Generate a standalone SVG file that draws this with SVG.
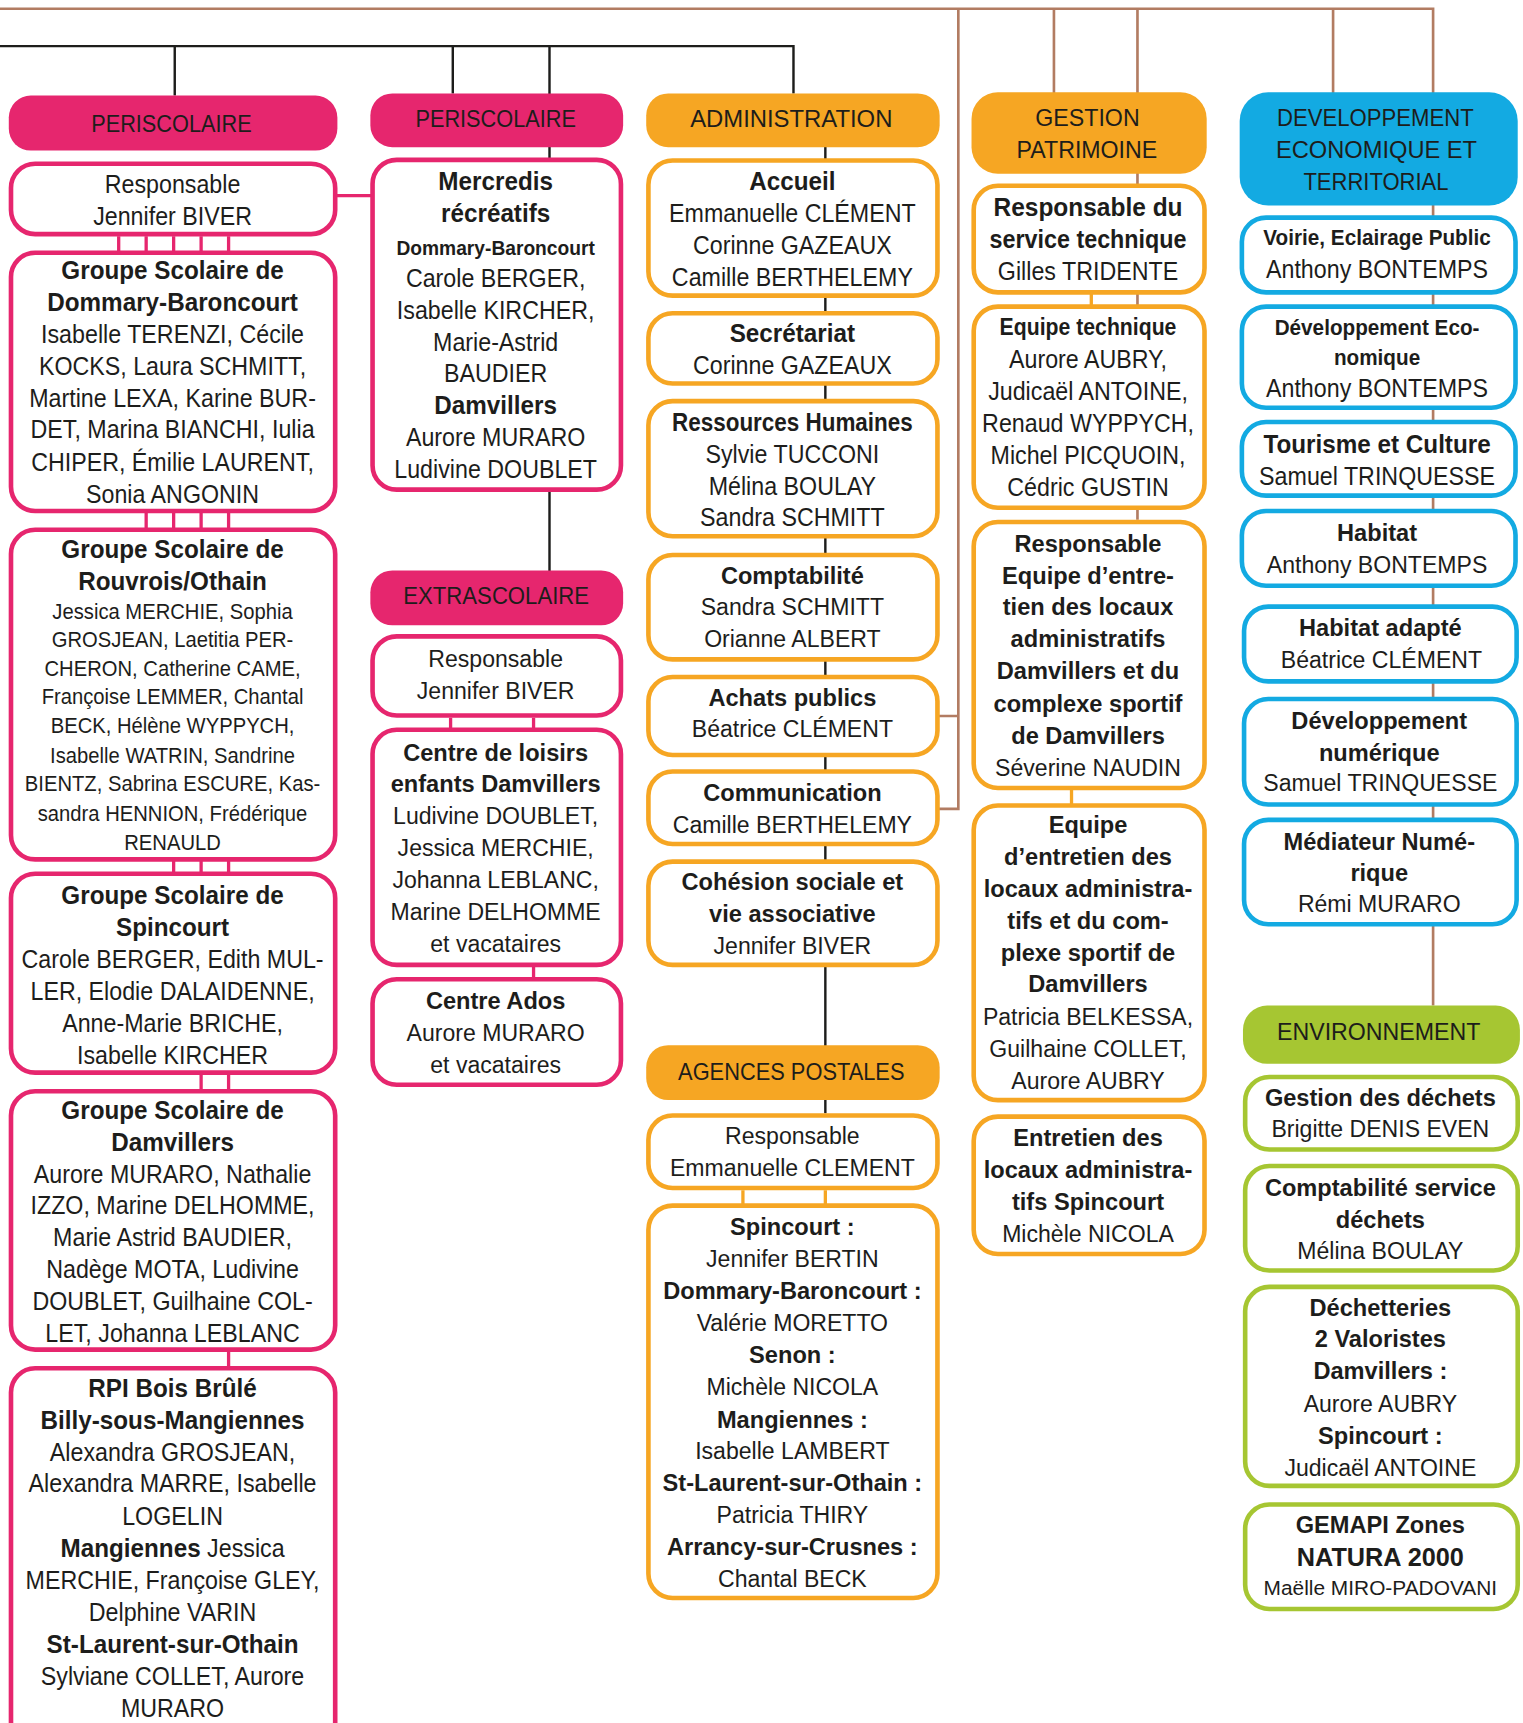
<svg xmlns="http://www.w3.org/2000/svg" width="1523" height="1723" viewBox="0 0 1523 1723">
<style>
.t{font-family:"Liberation Sans",Arial,sans-serif;fill:#1d1d1b;text-anchor:middle}
.r{font-size:23px}
.b{font-size:24px;font-weight:700}
.rs{font-size:20px}
.bs{font-size:19px;font-weight:700}
.b21{font-size:21px;font-weight:700}
.b20{font-size:20.5px;font-weight:700}
.wr{font-size:21px}
.wb{font-size:21.5px;font-weight:700}
.wb23{font-size:23px;font-weight:700}
.wr19{font-size:19px}
.h{font-family:"Liberation Sans",Arial,sans-serif;fill:#1d1d1b;text-anchor:middle;font-size:22px}
.bp{fill:#fff;stroke:#E6266E;stroke-width:4.2}
.bo{fill:#fff;stroke:#F6A623;stroke-width:4.2}
.bb{fill:#fff;stroke:#13AAE2;stroke-width:4.2}
.bg{fill:#fff;stroke:#A6C632;stroke-width:4.2}
.hp{fill:#E6266E}
.ho{fill:#F6A623}
.hb{fill:#13AAE2}
.hg{fill:#A6C632}
.lk{stroke:#1d1d1b;stroke-width:2.2;fill:none}
.ln{stroke:#B27C62;stroke-width:2.4;fill:none}
.lp{stroke:#E6266E;stroke-width:3;fill:none}
.lo{stroke:#F6A623;stroke-width:3;fill:none}
</style>
<rect width="1523" height="1723" fill="#fff"/>
<g transform="scale(1.099)">
<g id="connectors">
<path class="ln" d="M0 8H1304V915M872 8V736H853M853 651.5H872M959 8V85M1035 8V473M1213 8V85"/>
<path class="lk" d="M0 42H722V85M159 42V87M412 42V85M500 42V520M751 133V1013"/>
<path class="lp" d="M305 178H340M108 215V230M133 215V482M158 215V795M183 215V993M208 215V1245M410 653V664M485.5 653V891"/>
<path class="lo" d="M676 1083V1097M751 1083V1097M993 266V279M975 717V733"/>
</g>

<g id="h-periscolaire1"><rect class="hp" x="8" y="87" width="299" height="50" rx="20"/><text class="h" x="156" y="120" textLength="146" lengthAdjust="spacingAndGlyphs">PERISCOLAIRE</text></g>
<g id="resp-periscolaire"><rect class="bp" x="10" y="149" width="295" height="64" rx="22"/>
<g transform="translate(157 0) scale(0.92 1)"><text class="t r" x="0" y="176">Responsable</text><text class="t r" x="0" y="205">Jennifer BIVER</text></g></g>
<g id="gs-dommary"><rect class="bp" x="10" y="230" width="295" height="235" rx="22"/>
<g transform="translate(157 0) scale(0.92 1)"><text class="t b" x="0" y="254">Groupe Scolaire de</text><text class="t b" x="0" y="283">Dommary-Baroncourt</text><text class="t r" x="0" y="312">Isabelle TERENZI, Cécile</text><text class="t r" x="0" y="341">KOCKS, Laura SCHMITT,</text><text class="t r" x="0" y="370">Martine LEXA, Karine BUR-</text><text class="t r" x="0" y="399">DET, Marina BIANCHI, Iulia</text><text class="t r" x="0" y="429">CHIPER, Émilie LAURENT,</text><text class="t r" x="0" y="458">Sonia ANGONIN</text></g></g>
<g id="gs-rouvrois"><rect class="bp" x="10" y="482" width="295" height="300" rx="22"/>
<g transform="translate(157 0) scale(0.92 1)"><text class="t b" x="0" y="508">Groupe Scolaire de</text><text class="t b" x="0" y="537">Rouvrois/Othain</text><text class="t rs" x="0" y="563">Jessica MERCHIE, Sophia</text><text class="t rs" x="0" y="589">GROSJEAN, Laetitia PER-</text><text class="t rs" x="0" y="615">CHERON, Catherine CAME,</text><text class="t rs" x="0" y="641">Françoise LEMMER, Chantal</text><text class="t rs" x="0" y="667">BECK, Hélène WYPPYCH,</text><text class="t rs" x="0" y="694">Isabelle WATRIN, Sandrine</text><text class="t rs" x="0" y="720">BIENTZ, Sabrina ESCURE, Kas-</text><text class="t rs" x="0" y="747">sandra HENNION, Frédérique</text><text class="t rs" x="0" y="773">RENAULD</text></g></g>
<g id="gs-spincourt"><rect class="bp" x="10" y="795" width="295" height="181" rx="22"/>
<g transform="translate(157 0) scale(0.92 1)"><text class="t b" x="0" y="823">Groupe Scolaire de</text><text class="t b" x="0" y="852">Spincourt</text><text class="t r" x="0" y="881">Carole BERGER, Edith MUL-</text><text class="t r" x="0" y="910">LER, Elodie DALAIDENNE,</text><text class="t r" x="0" y="939">Anne-Marie BRICHE,</text><text class="t r" x="0" y="968">Isabelle KIRCHER</text></g></g>
<g id="gs-damvillers"><rect class="bp" x="10" y="993" width="295" height="235" rx="22"/>
<g transform="translate(157 0) scale(0.92 1)"><text class="t b" x="0" y="1018">Groupe Scolaire de</text><text class="t b" x="0" y="1047">Damvillers</text><text class="t r" x="0" y="1076">Aurore MURARO, Nathalie</text><text class="t r" x="0" y="1105">IZZO, Marine DELHOMME,</text><text class="t r" x="0" y="1134">Marie Astrid BAUDIER,</text><text class="t r" x="0" y="1163">Nadège MOTA, Ludivine</text><text class="t r" x="0" y="1192">DOUBLET, Guilhaine COL-</text><text class="t r" x="0" y="1221">LET, Johanna LEBLANC</text></g></g>
<g id="rpi"><rect class="bp" x="10" y="1245" width="295" height="360" rx="22"/>
<g transform="translate(157 0) scale(0.92 1)"><text class="t b" x="0" y="1271">RPI Bois Brûlé</text><text class="t b" x="0" y="1300">Billy-sous-Mangiennes</text><text class="t r" x="0" y="1329">Alexandra GROSJEAN,</text><text class="t r" x="0" y="1358">Alexandra MARRE, Isabelle</text><text class="t r" x="0" y="1388">LOGELIN</text><text class="t r" x="0" y="1417"><tspan font-weight="700" font-size="24">Mangiennes</tspan> Jessica</text><text class="t r" x="0" y="1446">MERCHIE, Françoise GLEY,</text><text class="t r" x="0" y="1475">Delphine VARIN</text><text class="t b" x="0" y="1504">St-Laurent-sur-Othain</text><text class="t r" x="0" y="1533">Sylviane COLLET, Aurore</text><text class="t r" x="0" y="1562">MURARO</text></g></g>

<g id="h-periscolaire2"><rect class="hp" x="337" y="85" width="230" height="49" rx="20"/><text class="h" x="451" y="116" textLength="146" lengthAdjust="spacingAndGlyphs">PERISCOLAIRE</text></g>
<g id="mercredis"><rect class="bp" x="339" y="145.5" width="226" height="300" rx="22"/>
<g transform="translate(451 0) scale(0.92 1)"><text class="t b" x="0" y="173">Mercredis</text><text class="t b" x="0" y="202">récréatifs</text><text class="t bs" x="0" y="232">Dommary-Baroncourt</text><text class="t r" x="0" y="261">Carole BERGER,</text><text class="t r" x="0" y="290">Isabelle KIRCHER,</text><text class="t r" x="0" y="319">Marie-Astrid</text><text class="t r" x="0" y="348">BAUDIER</text><text class="t b" x="0" y="377">Damvillers</text><text class="t r" x="0" y="406">Aurore MURARO</text><text class="t r" x="0" y="435">Ludivine DOUBLET</text></g></g>
<g id="h-extrascolaire"><rect class="hp" x="337" y="519" width="230" height="50" rx="20"/><text class="h" x="451.5" y="550" textLength="169" lengthAdjust="spacingAndGlyphs">EXTRASCOLAIRE</text></g>
<g id="resp-extrascolaire"><rect class="bp" x="339" y="579" width="226" height="72" rx="22"/>
<text class="t wr" x="451" y="607">Responsable</text><text class="t wr" x="451" y="636">Jennifer BIVER</text></g>
<g id="centre-loisirs"><rect class="bp" x="339" y="664" width="226" height="214" rx="22"/>
<text class="t wb" x="451" y="692">Centre de loisirs</text><text class="t wb" x="451" y="721">enfants Damvillers</text><text class="t wr" x="451" y="750">Ludivine DOUBLET,</text><text class="t wr" x="451" y="779">Jessica MERCHIE,</text><text class="t wr" x="451" y="808">Johanna LEBLANC,</text><text class="t wr" x="451" y="837">Marine DELHOMME</text><text class="t wr" x="451" y="866">et vacataires</text></g>
<g id="centre-ados"><rect class="bp" x="339" y="891" width="226" height="96" rx="22"/>
<text class="t wb" x="451" y="918">Centre Ados</text><text class="t wr" x="451" y="947">Aurore MURARO</text><text class="t wr" x="451" y="976">et vacataires</text></g>

<g id="h-administration"><rect class="ho" x="588" y="85" width="267" height="49" rx="20"/><text class="h" x="720" y="116" textLength="184" lengthAdjust="spacingAndGlyphs">ADMINISTRATION</text></g>
<g id="accueil"><rect class="bo" x="590" y="146" width="263" height="123" rx="22"/>
<g transform="translate(721 0) scale(0.92 1)"><text class="t b" x="0" y="173">Accueil</text><text class="t r" x="0" y="202">Emmanuelle CLÉMENT</text><text class="t r" x="0" y="231">Corinne GAZEAUX</text><text class="t r" x="0" y="260">Camille BERTHELEMY</text></g></g>
<g id="secretariat"><rect class="bo" x="590" y="285" width="263" height="64" rx="22"/>
<g transform="translate(721 0) scale(0.92 1)"><text class="t b" x="0" y="311">Secrétariat</text><text class="t r" x="0" y="340">Corinne GAZEAUX</text></g></g>
<g id="rh"><rect class="bo" x="590" y="365" width="263" height="123" rx="22"/>
<g transform="translate(721 0) scale(0.92 1)"><text class="t b" x="0" y="392" textLength="238" lengthAdjust="spacingAndGlyphs">Ressources Humaines</text><text class="t r" x="0" y="421">Sylvie TUCCONI</text><text class="t r" x="0" y="450">Mélina BOULAY</text><text class="t r" x="0" y="479">Sandra SCHMITT</text></g></g>
<g id="comptabilite"><rect class="bo" x="590" y="505" width="263" height="95" rx="22"/>
<text class="t wb" x="721" y="531">Comptabilité</text><text class="t wr" x="721" y="560">Sandra SCHMITT</text><text class="t wr" x="721" y="589">Orianne ALBERT</text></g>
<g id="achats"><rect class="bo" x="590" y="616" width="263" height="71" rx="22"/>
<text class="t wb" x="721" y="642">Achats publics</text><text class="t wr" x="721" y="671">Béatrice CLÉMENT</text></g>
<g id="communication"><rect class="bo" x="590" y="702" width="263" height="66" rx="22"/>
<text class="t wb" x="721" y="729">Communication</text><text class="t wr" x="721" y="758">Camille BERTHELEMY</text></g>
<g id="cohesion"><rect class="bo" x="590" y="784" width="263" height="94" rx="22"/>
<text class="t wb" x="721" y="810">Cohésion sociale et</text><text class="t wb" x="721" y="839">vie associative</text><text class="t wr" x="721" y="868">Jennifer BIVER</text></g>
<g id="h-agences"><rect class="ho" x="588" y="951" width="267" height="50" rx="20"/><text class="h" x="720" y="983" textLength="206" lengthAdjust="spacingAndGlyphs">AGENCES POSTALES</text></g>
<g id="resp-agences"><rect class="bo" x="590" y="1015" width="263" height="66" rx="22"/>
<text class="t wr" x="721" y="1041">Responsable</text><text class="t wr" x="721" y="1070">Emmanuelle CLEMENT</text></g>
<g id="agences-liste"><rect class="bo" x="590" y="1097" width="263" height="357" rx="22"/>
<text class="t wb" x="721" y="1124">Spincourt :</text><text class="t wr" x="721" y="1153">Jennifer BERTIN</text><text class="t wb" x="721" y="1182">Dommary-Baroncourt :</text><text class="t wr" x="721" y="1211">Valérie MORETTO</text><text class="t wb" x="721" y="1240">Senon :</text><text class="t wr" x="721" y="1269">Michèle NICOLA</text><text class="t wb" x="721" y="1299">Mangiennes :</text><text class="t wr" x="721" y="1328">Isabelle LAMBERT</text><text class="t wb" x="721" y="1357">St-Laurent-sur-Othain :</text><text class="t wr" x="721" y="1386">Patricia THIRY</text><text class="t wb" x="721" y="1415">Arrancy-sur-Crusnes :</text><text class="t wr" x="721" y="1444">Chantal BECK</text></g>

<g id="h-gestion"><rect class="ho" x="884" y="84" width="214" height="74" rx="24"/><text class="h" x="989.5" y="115" textLength="95" lengthAdjust="spacingAndGlyphs">GESTION</text><text class="h" x="989" y="144" textLength="128" lengthAdjust="spacingAndGlyphs">PATRIMOINE</text></g>
<g id="resp-technique"><rect class="bo" x="886" y="169" width="210" height="97" rx="22"/>
<g transform="translate(990 0) scale(0.92 1)"><text class="t b" x="0" y="197" textLength="187" lengthAdjust="spacingAndGlyphs">Responsable du</text><text class="t b" x="0" y="226" textLength="195" lengthAdjust="spacingAndGlyphs">service technique</text><text class="t r" x="0" y="255">Gilles TRIDENTE</text></g></g>
<g id="equipe-technique"><rect class="bo" x="886" y="279" width="210" height="183" rx="22"/>
<g transform="translate(990 0) scale(0.92 1)"><text class="t b21" x="0" y="305">Equipe technique</text><text class="t r" x="0" y="335">Aurore AUBRY,</text><text class="t r" x="0" y="364">Judicaël ANTOINE,</text><text class="t r" x="0" y="393">Renaud WYPPYCH,</text><text class="t r" x="0" y="422">Michel PICQUOIN,</text><text class="t r" x="0" y="451">Cédric GUSTIN</text></g></g>
<g id="resp-entretien"><rect class="bo" x="886" y="475" width="210" height="242" rx="22"/>
<text class="t wb" x="990" y="502">Responsable</text><text class="t wb" x="990" y="531">Equipe d’entre-</text><text class="t wb" x="990" y="560">tien des locaux</text><text class="t wb" x="990" y="589">administratifs</text><text class="t wb" x="990" y="618">Damvillers et du</text><text class="t wb" x="990" y="648">complexe sportif</text><text class="t wb" x="990" y="677">de Damvillers</text><text class="t wr" x="990" y="706">Séverine NAUDIN</text></g>
<g id="equipe-entretien"><rect class="bo" x="886" y="733" width="210" height="268" rx="22"/>
<text class="t wb" x="990" y="758">Equipe</text><text class="t wb" x="990" y="787">d’entretien des</text><text class="t wb" x="990" y="816">locaux administra-</text><text class="t wb" x="990" y="845">tifs et du com-</text><text class="t wb" x="990" y="874">plexe sportif de</text><text class="t wb" x="990" y="903">Damvillers</text><text class="t wr" x="990" y="933">Patricia BELKESSA,</text><text class="t wr" x="990" y="962">Guilhaine COLLET,</text><text class="t wr" x="990" y="991">Aurore AUBRY</text></g>
<g id="entretien-spincourt"><rect class="bo" x="886" y="1016" width="210" height="125" rx="22"/>
<text class="t wb" x="990" y="1043">Entretien des</text><text class="t wb" x="990" y="1072">locaux administra-</text><text class="t wb" x="990" y="1101">tifs Spincourt</text><text class="t wr" x="990" y="1130">Michèle NICOLA</text></g>

<g id="h-developpement"><rect class="hb" x="1128" y="84" width="253" height="103" rx="26"/><text class="h" x="1251.5" y="115" textLength="179" lengthAdjust="spacingAndGlyphs">DEVELOPPEMENT</text><text class="h" x="1252.5" y="144" textLength="183" lengthAdjust="spacingAndGlyphs">ECONOMIQUE ET</text><text class="h" x="1252" y="173" textLength="132" lengthAdjust="spacingAndGlyphs">TERRITORIAL</text></g>
<g id="voirie"><rect class="bb" x="1130" y="198" width="249" height="68" rx="22"/>
<g transform="translate(1253 0) scale(0.92 1)"><text class="t b20" x="0" y="223">Voirie, Eclairage Public</text><text class="t r" x="0" y="253">Anthony BONTEMPS</text></g></g>
<g id="dev-eco"><rect class="bb" x="1130" y="279" width="249" height="92" rx="22"/>
<g transform="translate(1253 0) scale(0.92 1)"><text class="t b20" x="0" y="305">Développement Eco-</text><text class="t b20" x="0" y="332">nomique</text><text class="t r" x="0" y="361">Anthony BONTEMPS</text></g></g>
<g id="tourisme"><rect class="bb" x="1130" y="384" width="249" height="67" rx="22"/>
<g transform="translate(1253 0) scale(0.92 1)"><text class="t b" x="0" y="412">Tourisme et Culture</text><text class="t r" x="0" y="441">Samuel TRINQUESSE</text></g></g>
<g id="habitat"><rect class="bb" x="1130" y="465" width="249" height="68" rx="22"/>
<text class="t wb" x="1253" y="492">Habitat</text><text class="t wr" x="1253" y="521">Anthony BONTEMPS</text></g>
<g id="habitat-adapte"><rect class="bb" x="1132" y="552" width="248" height="68" rx="22"/>
<text class="t wb" x="1256" y="579">Habitat adapté</text><text class="t wr" x="1257" y="608">Béatrice CLÉMENT</text></g>
<g id="dev-numerique"><rect class="bb" x="1132" y="636" width="248" height="96" rx="22"/>
<text class="t wb" x="1255" y="663">Développement</text><text class="t wb" x="1255" y="692">numérique</text><text class="t wr" x="1256" y="720">Samuel TRINQUESSE</text></g>
<g id="mediateur"><rect class="bb" x="1132" y="746" width="248" height="95" rx="22"/>
<text class="t wb" x="1255" y="773">Médiateur Numé-</text><text class="t wb" x="1255" y="802">rique</text><text class="t wr" x="1255" y="830">Rémi MURARO</text></g>

<g id="h-environnement"><rect class="hg" x="1131" y="915" width="252" height="53" rx="22"/><text class="h" x="1254.5" y="946" textLength="185" lengthAdjust="spacingAndGlyphs">ENVIRONNEMENT</text></g>
<g id="dechets"><rect class="bg" x="1133" y="980" width="248" height="66" rx="22"/>
<text class="t wb" x="1256" y="1006">Gestion des déchets</text><text class="t wr" x="1256" y="1035">Brigitte DENIS EVEN</text></g>
<g id="compta-dechets"><rect class="bg" x="1133" y="1061" width="248" height="95" rx="22"/>
<text class="t wb" x="1256" y="1088">Comptabilité service</text><text class="t wb" x="1256" y="1117">déchets</text><text class="t wr" x="1256" y="1146">Mélina BOULAY</text></g>
<g id="dechetteries"><rect class="bg" x="1133" y="1171" width="248" height="181" rx="22"/>
<text class="t wb" x="1256" y="1197">Déchetteries</text><text class="t wb" x="1256" y="1226">2 Valoristes</text><text class="t wb" x="1256" y="1255">Damvillers :</text><text class="t wr" x="1256" y="1285">Aurore AUBRY</text><text class="t wb" x="1256" y="1314">Spincourt :</text><text class="t wr" x="1256" y="1343">Judicaël ANTOINE</text></g>
<g id="gemapi"><rect class="bg" x="1133" y="1369" width="248" height="95" rx="22"/>
<text class="t wb" x="1256" y="1395">GEMAPI Zones</text><text class="t wb23" x="1256" y="1425">NATURA 2000</text><text class="t wr19" x="1256" y="1451">Maëlle MIRO-PADOVANI</text></g>
</g>
</svg>
